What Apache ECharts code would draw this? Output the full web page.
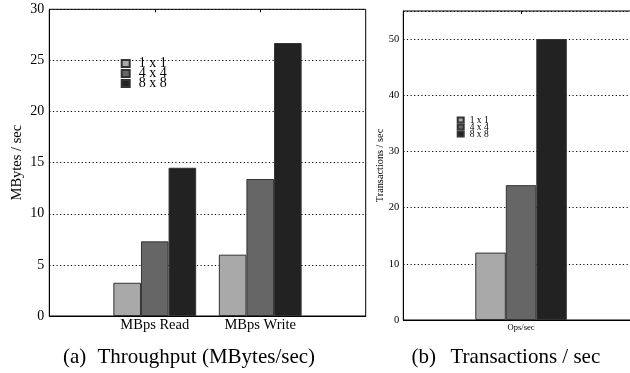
<!DOCTYPE html>
<html>
<head>
<meta charset="utf-8">
<script src="https://cdn.jsdelivr.net/npm/echarts@6/dist/echarts.min.js"></script>
<style>html,body{margin:0;padding:0;background:#fff;overflow:hidden}#c{width:645px;height:373px}</style>
</head>
<body>
<div id="c"></div>
<script>
const seriesNames = ['1 x 1', '4 x 4', '8 x 8'];
const throughputCategories = ['MBps Read', 'MBps Write'];
const throughput1x1 = [3.25, 6.0];
const throughput4x4 = [7.3, 13.4];
const throughput8x8 = [14.5, 26.7];
const transCategories = ['Ops/sec'];
const trans1x1 = [12];
const trans4x4 = [24];
const trans8x8 = [50];
const throughputTicks = [0, 5, 10, 15, 20, 25, 30];
const transTicks = [0, 10, 20, 30, 40, 50];

const fills = ['#a9a9a9', '#666666', '#222222'];
const FONT = 'Liberation Serif';

const padCats = ['', ...throughputCategories, ''];
const pad = arr => ['-', ...arr, '-'];

function barSeries(name, idx, data, axisIdx, width) {
  return {
    type: 'bar', name: name, xAxisIndex: axisIdx, yAxisIndex: axisIdx,
    data: data, barWidth: width, barGap: '0%',
    itemStyle: { color: fills[idx], borderColor: '#333', borderWidth: 1 },
    silent: true
  };
}

const chart = echarts.init(document.getElementById('c'), null, { renderer: 'canvas' });
chart.setOption({
  animation: false,
  backgroundColor: '#fff',
  grid: [
    { left: 49.3, top: 9.3, width: 316.4, height: 306.7, show: true, borderColor: '#000', borderWidth: 1, backgroundColor: 'transparent' },
    { left: 403.3, top: 11, width: 235.5, height: 309, show: true, borderColor: '#000', borderWidth: 1, backgroundColor: 'transparent' }
  ],
  legend: [
    { data: seriesNames, orient: 'vertical', left: 120.7, top: 56.5, padding: 0, itemWidth: 8, itemHeight: 7, itemGap: -4,
      icon: 'rect', selectedMode: false,
      textStyle: { fontFamily: FONT, fontSize: 14, color: '#000', padding: [0, 0, 0, 4] } },
    { data: seriesNames, orient: 'vertical', left: 456.7, top: 115, padding: 0, itemWidth: 6, itemHeight: 5, itemGap: -3,
      icon: 'rect', selectedMode: false,
      textStyle: { fontFamily: FONT, fontSize: 9.5, color: '#000', padding: [0, 0, 0, 1] } }
  ],
  xAxis: [
    { type: 'category', gridIndex: 0, data: padCats, boundaryGap: false,
      axisLine: { lineStyle: { color: '#000' } }, axisTick: { show: false },
      axisLabel: { fontFamily: FONT, fontSize: 14.5, color: '#000', margin: 2, interval: 0 },
      splitLine: { show: false } },
    { type: 'category', gridIndex: 1, data: transCategories, boundaryGap: true,
      axisLine: { lineStyle: { color: '#000' } }, axisTick: { show: false },
      axisLabel: { fontFamily: FONT, fontSize: 8.5, color: '#000', margin: 3 },
      splitLine: { show: false } },
    { type: 'category', gridIndex: 0, data: padCats, boundaryGap: false, position: 'top',
      axisLine: { show: false },
      axisTick: { show: true, inside: true, length: 3, lineStyle: { color: '#000' },
        interval: (i) => i === 1 || i === 2 },
      axisLabel: { show: false } },
    { type: 'category', gridIndex: 1, data: transCategories, boundaryGap: true, position: 'top',
      axisLine: { show: false },
      axisTick: { show: true, inside: true, length: 3, alignWithLabel: true, lineStyle: { color: '#000' } },
      axisLabel: { show: false } }
  ],
  yAxis: [
    { type: 'value', gridIndex: 0, min: throughputTicks[0], max: throughputTicks[throughputTicks.length - 1], interval: 5,
      name: 'MBytes / sec', nameLocation: 'middle', nameGap: 25,
      nameTextStyle: { fontFamily: FONT, fontSize: 14.5, color: '#000' },
      axisLine: { show: true, lineStyle: { color: '#000' } }, axisTick: { show: false },
      axisLabel: { fontFamily: FONT, fontSize: 14, color: '#000', margin: 5 },
      splitLine: { show: true, lineStyle: { color: '#000', type: [1.2, 2.4], width: 1 } } },
    { type: 'value', gridIndex: 1, min: transTicks[0], max: 55, interval: 10,
      name: 'Transactions / sec', nameLocation: 'middle', nameGap: 17,
      nameTextStyle: { fontFamily: FONT, fontSize: 10.3, color: '#000' },
      axisLine: { show: true, lineStyle: { color: '#000' } }, axisTick: { show: false },
      axisLabel: { fontFamily: FONT, fontSize: 10.5, color: '#000', margin: 4,
        formatter: v => (transTicks.indexOf(v) >= 0 ? String(v) : '') },
      splitLine: { show: true, lineStyle: { color: '#000', type: [1.2, 2.4], width: 1 } } }
  ],
  graphic: [
    { type: 'text', left: 63, top: 347, style: { text: '(a)', font: '21px "Liberation Serif"', fill: '#000' } },
    { type: 'text', left: 97.5, top: 347, style: { text: 'Throughput (MBytes/sec)', font: '21px "Liberation Serif"', fill: '#000' } },
    { type: 'text', left: 411.5, top: 347, style: { text: '(b)', font: '21px "Liberation Serif"', fill: '#000' } },
    { type: 'text', left: 450.5, top: 347, style: { text: 'Transactions / sec', font: '21px "Liberation Serif"', fill: '#000' } }
  ],
  series: [
    barSeries(seriesNames[0], 0, pad(throughput1x1), 0, 27.6),
    barSeries(seriesNames[1], 1, pad(throughput4x4), 0, 27.6),
    barSeries(seriesNames[2], 2, pad(throughput8x8), 0, 27.6),
    barSeries(seriesNames[0], 0, trans1x1, 1, 30.5),
    barSeries(seriesNames[1], 1, trans4x4, 1, 30.5),
    barSeries(seriesNames[2], 2, trans8x8, 1, 30.5)
  ]
});
</script>
</body>
</html>
